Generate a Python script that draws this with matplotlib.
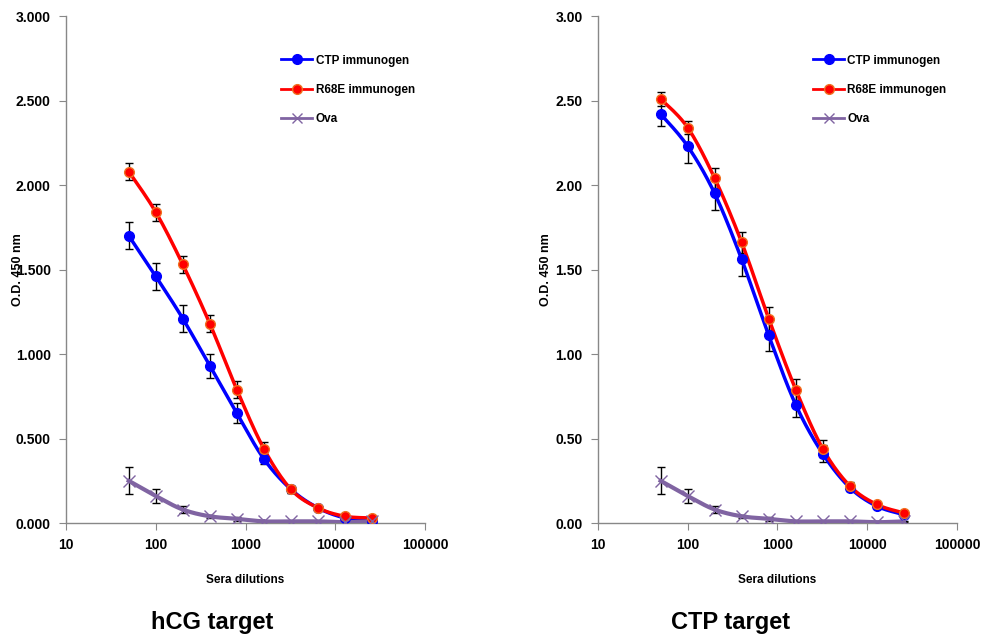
import numpy as np
import matplotlib
matplotlib.use("Agg")
import matplotlib.pyplot as plt
from matplotlib.ticker import FixedLocator, FuncFormatter

plt.rcParams["font.family"] = ["Liberation Sans Narrow", "Liberation Sans", "DejaVu Sans"]

dilutions = [50, 100, 200, 400, 800, 1600, 3200, 6400, 12800, 25600]

# hCG target
hcg_ctp = [1.70, 1.46, 1.21, 0.93, 0.65, 0.38, 0.20, 0.09, 0.03, 0.01]
hcg_ctp_err = [0.08, 0.08, 0.08, 0.07, 0.06, 0.03, 0.02, 0.01, 0.01, 0.005]
hcg_r68e = [2.08, 1.84, 1.53, 1.18, 0.79, 0.44, 0.20, 0.09, 0.04, 0.03]
hcg_r68e_err = [0.05, 0.05, 0.05, 0.05, 0.05, 0.04, 0.02, 0.01, 0.01, 0.005]

# CTP target
ctp_ctp = [2.42, 2.23, 1.95, 1.56, 1.11, 0.70, 0.41, 0.21, 0.10, 0.05]
ctp_ctp_err = [0.07, 0.10, 0.10, 0.10, 0.09, 0.07, 0.05, 0.02, 0.01, 0.01]
ctp_r68e = [2.51, 2.34, 2.04, 1.66, 1.21, 0.79, 0.44, 0.22, 0.11, 0.06]
ctp_r68e_err = [0.04, 0.04, 0.06, 0.06, 0.07, 0.06, 0.05, 0.02, 0.01, 0.01]

ova = [0.25, 0.16, 0.08, 0.04, 0.025, 0.01, 0.01, 0.01, 0.005, 0.01]
ova_err = [0.08, 0.04, 0.02, 0.01, 0.01, 0.005, 0.005, 0.005, 0.005, 0.005]

series_labels = ["CTP immunogen", "R68E immunogen", "Ova"]
panel_titles = ["hCG target", "CTP target"]


def smooth(x, y, n=20):
    # Catmull-Rom curve through the points in log-x space (Excel-like smoothing)
    lx = np.log10(x)
    pts = np.column_stack([lx, y])
    p = np.vstack([pts[0], pts, pts[-1]])
    t = np.linspace(0, 1, n)[:, None]
    out = []
    for i in range(1, len(p) - 2):
        p0, p1, p2, p3 = p[i - 1], p[i], p[i + 1], p[i + 2]
        seg = 0.5 * ((2 * p1) + (-p0 + p2) * t + (2 * p0 - 5 * p1 + 4 * p2 - p3) * t**2
                     + (-p0 + 3 * p1 - 3 * p2 + p3) * t**3)
        out.append(seg)
    out = np.vstack(out)
    return 10 ** out[:, 0], out[:, 1]


fig = plt.figure(figsize=(9.85, 6.41), dpi=100)
ax1 = fig.add_axes([0.067, 0.184, 0.3645, 0.791])
ax2 = fig.add_axes([0.607, 0.184, 0.3645, 0.791])

panels = [
    (ax1, hcg_ctp, hcg_ctp_err, hcg_r68e, hcg_r68e_err, "{:.3f}", -0.118),
    (ax2, ctp_ctp, ctp_ctp_err, ctp_r68e, ctp_r68e_err, "{:.2f}", -0.128),
]

styles = [
    dict(color="#0000FF", marker="o", ms=7, mfc="#0000FF", mec="#0000FF"),
    dict(color="#FF0000", marker="o", ms=7, mfc="#FF0000", mec="#F07020"),
    dict(color="#8064A2", marker="x", ms=9, mfc="#8064A2", mec="#8064A2"),
]

for ax, c, ce, r, re, fmt, ylx in panels:
    for vals, errs, st, lab in zip([c, r, ova], [ce, re, ova_err], styles, series_labels):
        lw = 3 if st["marker"] == "x" else 2.5
        ax.errorbar(dilutions, vals, yerr=errs, fmt="none", ecolor="black",
                    elinewidth=1, capsize=3, capthick=1, zorder=2)
        sx, sy = smooth(dilutions, vals)
        ax.plot(sx, sy, color=st["color"], lw=lw, zorder=3)
        ax.plot(dilutions, vals, linestyle="none", marker=st["marker"], ms=st["ms"],
                mfc=st["mfc"], mec=st["mec"], mew=1.0, zorder=4)
        ax.plot([], [], color=st["color"], lw=2, marker=st["marker"], ms=7,
                mfc=st["mfc"], mec=st["mec"], label=lab)
    ax.set_xscale("log")
    ax.set_xlim(10, 100000)
    ax.set_ylim(0, 3.0)
    ax.xaxis.set_major_locator(FixedLocator([10, 100, 1000, 10000, 100000]))
    ax.xaxis.set_minor_locator(FixedLocator([]))
    ax.xaxis.set_major_formatter(FuncFormatter(lambda v, p: f"{int(round(v))}"))
    ax.set_yticks(np.arange(0, 3.01, 0.5))
    ax.yaxis.set_major_formatter(FuncFormatter(lambda v, p, f=fmt: f.format(v)))
    for s in ["top", "right"]:
        ax.spines[s].set_visible(False)
    for s in ["left", "bottom"]:
        ax.spines[s].set_color("#888888")
        ax.spines[s].set_linewidth(1)
    ax.tick_params(axis="both", direction="out", color="#888888", length=5,
                   labelsize=10, pad=6)
    for lbl in ax.get_xticklabels() + ax.get_yticklabels():
        lbl.set_fontweight("bold")
    ax.set_xlabel("Sera dilutions", fontsize=8.5, fontweight="bold")
    ax.xaxis.set_label_coords(0.5, -0.1)
    ax.set_ylabel("O.D. 450 nm", fontsize=9, fontweight="bold")
    ax.yaxis.set_label_coords(ylx, 0.5)
    leg = ax.legend(loc="upper left", bbox_to_anchor=(0.57, 0.945), frameon=False,
                    fontsize=8.5, handlelength=2.6, handletextpad=0.3, labelspacing=1.45)
    for t in leg.get_texts():
        t.set_fontweight("bold")

fig.text(0.215, 0.018, panel_titles[0], fontsize=17, fontweight="bold", ha="center")
fig.text(0.742, 0.018, panel_titles[1], fontsize=17, fontweight="bold", ha="center")

fig.savefig("out.png", dpi=100, facecolor="white")
